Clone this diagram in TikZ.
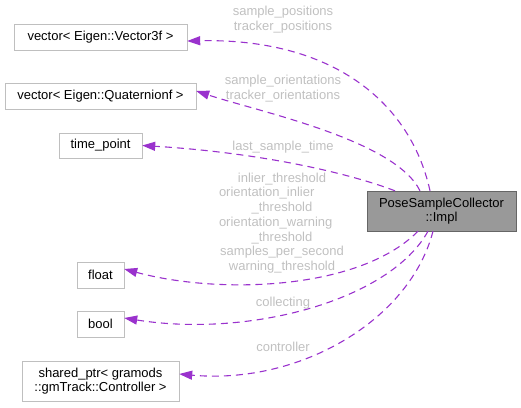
\documentclass[tikz,border=0pt]{standalone}
\usepackage{fontspec}
\setmainfont{Liberation Sans}
\usepackage{tikz}
\usetikzlibrary{arrows.meta,positioning}
\definecolor{edgepurple}{HTML}{9A32CD}
\definecolor{labelgrey}{HTML}{C0C0C0}
\definecolor{boxgrey}{HTML}{BFBFBF}
\tikzset
{
    membernode/.style = {rectangle, draw=boxgrey, align=center, inner sep=2pt, font=\fontsize{13}{14.7}\selectfont},
    implnode/.style   = {rectangle, draw=black!60, fill=black!40, align=center, inner sep=2pt, font=\fontsize{13}{14.7}\selectfont},
    edgelabel/.style  = {text=labelgrey, align=center, inner sep=0pt, font=\fontsize{13}{14.7}\selectfont},
    memberedge/.style = {draw=edgepurple, line width=1.1pt, dash pattern=on 7pt off 5pt, -{Triangle[length=13pt,width=9pt]}}
}

\begin{document}
\begin{tikzpicture}[x=1pt, y=-1pt]
\useasboundingbox (0,0) rectangle (521,407);
% class boxes
\node[implnode, minimum width=149pt, minimum height=40pt] (impl) at (441.5,211) {PoseSampleCollector\\::Impl};
\node[membernode, minimum width=173pt, minimum height=26pt] (vec3) at (100.5,37) {vector< Eigen::Vector3f >};
\node[membernode, minimum width=191pt, minimum height=26pt] (quat) at (100.5,96) {vector< Eigen::Quaternionf >};
\node[membernode, minimum width=83pt, minimum height=25pt] (timept) at (100.5,145.5) {time\_point};
\node[membernode, minimum width=47pt, minimum height=26pt] (floatn) at (100.5,275) {float};
\node[membernode, minimum width=47pt, minimum height=26pt] (booln) at (100.5,324) {bool};
\node[membernode, minimum width=157pt, minimum height=40pt] (ctrl) at (100.5,381) {shared\_ptr< gramods\\::gmTrack::Controller >};

% member edges
\draw[memberedge] ([xshift=-11.5pt]impl.north) .. controls (410,100) and (330,38) .. ([yshift=-4pt]vec3.east);
\draw[memberedge] ([xshift=-21.5pt]impl.north) .. controls (395,140) and (260,112) .. ([yshift=5pt]quat.east);
\draw[memberedge] ([xshift=-46.5pt]impl.north) .. controls (340,170) and (250,152) .. (timept.east);
\draw[memberedge] ([xshift=-23.5pt]impl.south) .. controls (360,290) and (220,295) .. ([yshift=6pt]floatn.east);
\draw[memberedge] ([xshift=-13.5pt]impl.south) .. controls (390,300) and (250,338) .. ([yshift=6pt]booln.east);
\draw[memberedge] ([xshift=-8.5pt]impl.south) .. controls (410,320) and (300,385) .. ([yshift=7pt]ctrl.east);

% edge labels
\node[edgelabel] (poslbl) at (283,19.5) {sample\_positions\\tracker\_positions};
\node[edgelabel] (orilbl) at (283,88.5) {sample\_orientations\\tracker\_orientations};
\node[edgelabel] (timelbl) at (283,147) {last\_sample\_time};
\node[edgelabel] (floatlbl) at (282,223) {inlier\_threshold\\\makebox[126pt][l]{orientation\_inlier}\\\_threshold\\\makebox[126pt][l]{orientation\_warning}\\\_threshold\\samples\_per\_second\\warning\_threshold};
\node[edgelabel] (boollbl) at (283,303) {collecting};
\node[edgelabel] (ctrllbl) at (283,347) {controller};
\end{tikzpicture}
\end{document}
